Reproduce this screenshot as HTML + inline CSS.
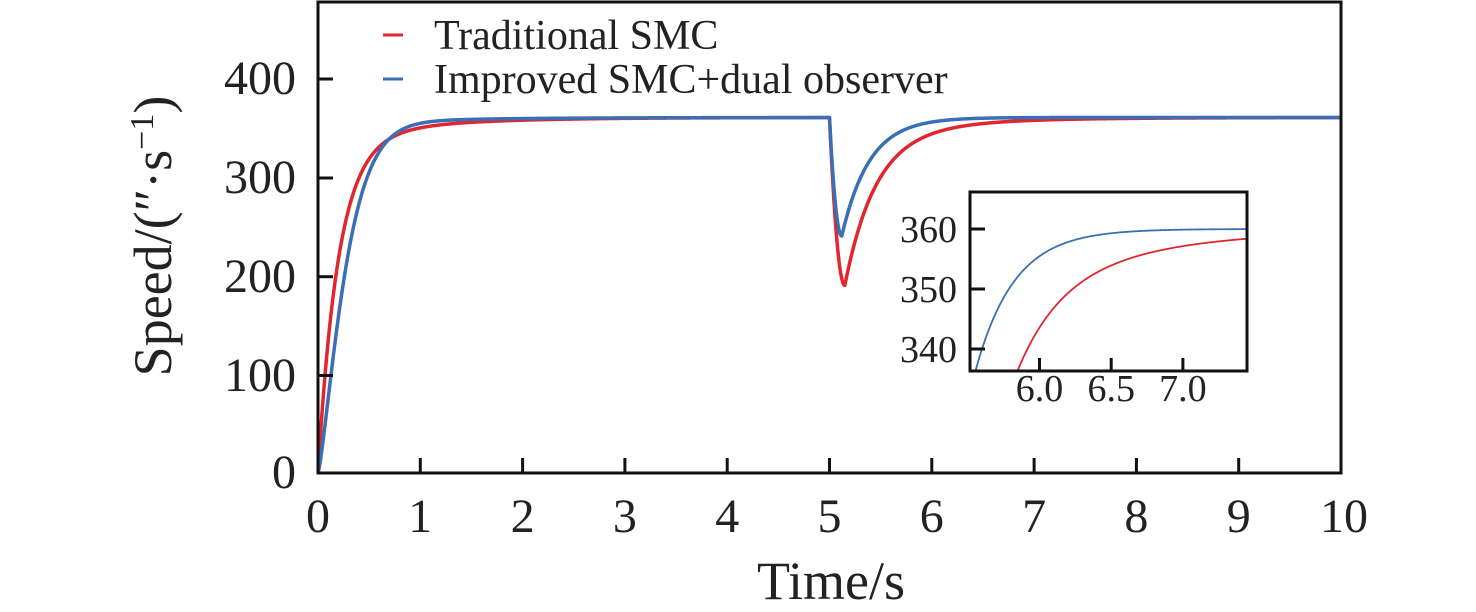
<!DOCTYPE html>
<html><head><meta charset="utf-8"><style>
html,body{margin:0;padding:0;background:#fff;}
svg{display:block;font-family:"Liberation Serif",serif;}
</style></head><body>
<svg id="s" width="1476" height="612" viewBox="0 0 1476 612" xmlns="http://www.w3.org/2000/svg">
<defs><clipPath id="mc"><rect x="318" y="2" width="1023" height="471"/></clipPath>
<clipPath id="ic"><rect x="970" y="192" width="277" height="179"/></clipPath></defs>
<g id="main" clip-path="url(#mc)"></g>
<rect x="318" y="2" width="1023" height="471" fill="none" stroke="#111" stroke-width="3"/>
<g stroke="#111" stroke-width="3">
<line x1="318" y1="375.5" x2="333" y2="375.5"/><line x1="318" y1="276.7" x2="333" y2="276.7"/><line x1="318" y1="178" x2="333" y2="178"/><line x1="318" y1="79" x2="333" y2="79"/>
<line x1="420.3" y1="473" x2="420.3" y2="458"/><line x1="522.6" y1="473" x2="522.6" y2="458"/><line x1="624.9" y1="473" x2="624.9" y2="458"/><line x1="727.2" y1="473" x2="727.2" y2="458"/><line x1="829.5" y1="473" x2="829.5" y2="458"/><line x1="931.8" y1="473" x2="931.8" y2="458"/><line x1="1034.1" y1="473" x2="1034.1" y2="458"/><line x1="1136.4" y1="473" x2="1136.4" y2="458"/><line x1="1238.7" y1="473" x2="1238.7" y2="458"/>
</g>
<g font-size="48" fill="#222" text-anchor="end">
<text x="296" y="488">0</text><text x="296" y="391">100</text><text x="296" y="292">200</text><text x="296" y="193">300</text><text x="296" y="94">400</text>
</g>
<g font-size="48" fill="#222" text-anchor="middle">
<text x="318" y="532">0</text><text x="420.3" y="532">1</text><text x="522.6" y="532">2</text><text x="624.9" y="532">3</text><text x="727.2" y="532">4</text><text x="829.5" y="532">5</text><text x="931.8" y="532">6</text><text x="1034.1" y="532">7</text><text x="1136.4" y="532">8</text><text x="1238.7" y="532">9</text><text x="1344" y="532">10</text>
<text x="831" y="599" font-size="54">Time/s</text>
<text transform="translate(171,236) rotate(-90)" font-size="54">Speed/(″·s<tspan dy="-18" font-size="34">−1</tspan><tspan dy="18">)</tspan></text>
</g>
<line x1="383" y1="35" x2="403" y2="35" stroke="#e0262e" stroke-width="3"/>
<line x1="383" y1="79" x2="403" y2="79" stroke="#3a6fb5" stroke-width="3"/>
<g font-size="42" fill="#222"><text x="434" y="49">Traditional SMC</text><text x="434" y="93">Improved SMC+dual observer</text></g>
<rect x="970" y="192" width="277" height="179" fill="#fff"/>
<g id="ins" clip-path="url(#ic)"></g>
<rect x="970" y="192" width="277" height="179" fill="none" stroke="#111" stroke-width="3"/>
<g stroke="#111" stroke-width="3">
<line x1="970" y1="229" x2="985" y2="229"/><line x1="970" y1="289" x2="985" y2="289"/><line x1="970" y1="349" x2="985" y2="349"/>
<line x1="1039.5" y1="371" x2="1039.5" y2="358"/><line x1="1111.2" y1="371" x2="1111.2" y2="358"/><line x1="1182.9" y1="371" x2="1182.9" y2="358"/>
</g>
<g font-size="38" fill="#222" text-anchor="end"><text x="957" y="242">360</text><text x="957" y="302">350</text><text x="957" y="362">340</text></g>
<g font-size="38" fill="#222" text-anchor="middle"><text x="1039.5" y="401">6.0</text><text x="1111.2" y="401">6.5</text><text x="1182.9" y="401">7.0</text></g>
</svg>
<script>
function red0(t){return 360-335*Math.exp(-t/0.2)-25*Math.exp(-t/0.9);}
function red(t){
 if(t<5){return red0(t);}
 var s=t-5,b=red0(5);
 if(s<0.15){var r=s/0.15;return b-170*(1-(1-r)*(1-r));}
 var u=s-0.15;return 360-150*Math.exp(-u/0.3)-20*Math.exp(-u/0.9);
}
function blue0(t){return 360-352*Math.exp(-Math.pow(t/0.3,1.3))-8*Math.exp(-t/1);}
function blue(t){
 if(t<5){return blue0(t);}
 var s=t-5;
 if(s<0.12){var r=s/0.12;return 360-120*(1-(1-r)*(1-r));}
 var u=s-0.12;return 360-120*Math.exp(-u/0.27);
}
function path(f,x0,sx,y0,sy,t0,t1,n){
 var d="";for(var i=0;i<=n;i++){var t=t0+(t1-t0)*i/n;d+=(i?"L":"M")+(x0+(t-t0)*sx).toFixed(2)+" "+(y0-f(t)*sy).toFixed(2);}return d;}
var NS="http://www.w3.org/2000/svg";
function add(g,d,c,w){var p=document.createElementNS(NS,"path");p.setAttribute("d",d);p.setAttribute("fill","none");p.setAttribute("stroke",c);p.setAttribute("stroke-width",w);p.setAttribute("stroke-linejoin","round");document.getElementById(g).appendChild(p);}
add("main",path(red,318,102.3,473,0.9875,0,10,3000),"#e0262e",3.5);
add("main",path(blue,318,102.3,473,0.9875,0,10,3000),"#3a6fb5",3.5);
add("ins",path(red,970,143.4,229+360*6,6,5.52,7.46,600),"#e0262e",1.8);
add("ins",path(blue,970,143.4,229+360*6,6,5.52,7.46,600),"#3a6fb5",1.8);
</script>
</body></html>
